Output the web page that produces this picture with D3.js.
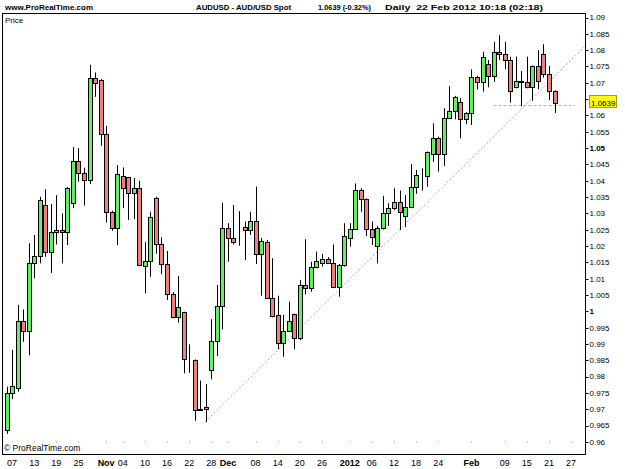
<!DOCTYPE html>
<html>
<head>
<meta charset="utf-8">
<script src="https://cdn.jsdelivr.net/npm/d3@7"></script>
<style>
    html, body { margin: 0; padding: 0; background: #fff; }
    svg { display: block; font-family: "Liberation Sans", Arial, sans-serif; }
</style>
</head>
<body>
<div id="chart"></div>
<script>
// AUDUSD daily, 6 Oct 2011 .. 22 Feb 2012 (one entry per trading day)
const open = [
    0.9637, 0.9749, 0.9764, 0.9971, 0.9940, 1.0147, 1.0170, 1.0326, 1.0181, 1.0242,
    1.0249, 1.0242, 1.0333, 1.0461, 1.0423, 1.0402, 1.0714, 1.0709, 1.0543, 1.0305,
    1.0254, 1.0416, 1.0411, 1.0362, 1.0379, 1.0139, 1.0154, 1.0348, 1.0205, 1.0144,
    1.0053, 0.9984, 0.9997, 0.9851, 0.9851, 0.9699, 0.9706, 0.9821, 0.9909, 1.0017,
    1.0254, 1.0224, 1.0258, 1.0258, 1.0248, 1.0278, 1.0176, 1.0212, 1.0040, 0.9989,
    0.9904, 0.9940, 0.9991, 0.9918, 1.0081, 1.0071, 1.0135, 1.0147, 1.0160, 1.0147,
    1.0076, 1.0142, 1.0224, 1.0252, 1.0372, 1.0344, 1.0251, 1.0201, 1.0254, 1.0300,
    1.0316, 1.0334, 1.0292, 1.0321, 1.0382, 1.0416, 1.0415, 1.0481, 1.0530, 1.0481,
    1.0591, 1.0614, 1.0640, 1.0588, 1.0608, 1.0719, 1.0703, 1.0758, 1.0721, 1.0795,
    1.0788, 1.0770, 1.0686, 1.0702, 1.0702, 1.0686, 1.0751, 1.0787, 1.0726, 1.0675
];
const high = [
    0.9769, 0.9882, 1.0020, 1.0006, 1.0209, 1.0234, 1.0351, 1.0374, 1.0329, 1.0356,
    1.0300, 1.0381, 1.0503, 1.0500, 1.0440, 1.0755, 1.0732, 1.0712, 1.0568, 1.0308,
    1.0448, 1.0441, 1.0412, 1.0408, 1.0400, 1.0213, 1.0305, 1.0351, 1.0227, 1.0185,
    1.0059, 1.0108, 0.9999, 0.9899, 0.9853, 0.9788, 0.9777, 0.9976, 1.0081, 1.0333,
    1.0270, 1.0326, 1.0307, 1.0275, 1.0305, 1.0382, 1.0225, 1.0219, 1.0163, 1.0048,
    0.9990, 1.0030, 0.9993, 1.0096, 1.0221, 1.0152, 1.0183, 1.0176, 1.0166, 1.0205,
    1.0145, 1.0270, 1.0270, 1.0392, 1.0377, 1.0346, 1.0275, 1.0262, 1.0354, 1.0331,
    1.0377, 1.0370, 1.0356, 1.0451, 1.0433, 1.0438, 1.0490, 1.0576, 1.0535, 1.0622,
    1.0690, 1.0660, 1.0653, 1.0610, 1.0741, 1.0721, 1.0795, 1.0770, 1.0826, 1.0846,
    1.0826, 1.0780, 1.0780, 1.0736, 1.0780, 1.0753, 1.0800, 1.0818, 1.0752, 1.0677
];
const low = [
    0.9625, 0.9731, 0.9754, 0.9907, 0.9866, 1.0101, 1.0147, 1.0167, 1.0118, 1.0205,
    1.0147, 1.0203, 1.0316, 1.0397, 1.0324, 1.0390, 1.0657, 1.0507, 1.0272, 1.0247,
    1.0203, 1.0316, 1.0280, 1.0282, 1.0139, 1.0055, 1.0106, 1.0176, 1.0114, 1.0035,
    0.9979, 0.9965, 0.9810, 0.9812, 0.9665, 0.9695, 0.9661, 0.9792, 0.9863, 0.9945,
    1.0152, 1.0205, 1.0201, 1.0157, 1.0234, 1.0145, 1.0048, 1.0038, 0.9982, 0.9884,
    0.9861, 0.9938, 0.9884, 0.9912, 1.0052, 1.0060, 1.0132, 1.0137, 1.0145, 1.0074,
    1.0045, 1.0137, 1.0198, 1.0249, 1.0305, 1.0231, 1.0203, 1.0147, 1.0251, 1.0262,
    1.0310, 1.0249, 1.0258, 1.0316, 1.0360, 1.0370, 1.0382, 1.0458, 1.0428, 1.0445,
    1.0589, 1.0588, 1.0530, 1.0574, 1.0571, 1.0680, 1.0673, 1.0686, 1.0703, 1.0770,
    1.0741, 1.0639, 1.0683, 1.0629, 1.0683, 1.0645, 1.0680, 1.0716, 1.0647, 1.0608
];
const close = [
    0.9749, 0.9772, 0.9971, 0.9940, 1.0147, 1.0170, 1.0341, 1.0183, 1.0242, 1.0249,
    1.0242, 1.0379, 1.0461, 1.0423, 1.0402, 1.0714, 1.0700, 1.0543, 1.0305, 1.0254,
    1.0420, 1.0377, 1.0362, 1.0379, 1.0142, 1.0154, 1.0288, 1.0205, 1.0144, 1.0053,
    0.9984, 1.0014, 0.9853, 0.9852, 0.9698, 0.9701, 0.9700, 0.9909, 1.0017, 1.0254,
    1.0224, 1.0213, 1.0259, 1.0248, 1.0278, 1.0176, 1.0217, 1.0040, 0.9987, 0.9904,
    0.9940, 0.9972, 0.9918, 1.0081, 1.0071, 1.0135, 1.0154, 1.0160, 1.0147, 1.0076,
    1.0142, 1.0231, 1.0252, 1.0372, 1.0344, 1.0251, 1.0227, 1.0254, 1.0300, 1.0316,
    1.0334, 1.0305, 1.0321, 1.0382, 1.0417, 1.0416, 1.0487, 1.0530, 1.0481, 1.0591,
    1.0614, 1.0657, 1.0588, 1.0608, 1.0719, 1.0703, 1.0778, 1.0721, 1.0795, 1.0788,
    1.0770, 1.0675, 1.0706, 1.0706, 1.0686, 1.0751, 1.0706, 1.0726, 1.0675, 1.0639
];

const tickDates = [
    "2011-10-07", "2011-10-13", "2011-10-19", "2011-10-25", "2011-11-01", "2011-11-04",
    "2011-11-10", "2011-11-16", "2011-11-22", "2011-11-28", "2011-12-01", "2011-12-08",
    "2011-12-14", "2011-12-20", "2011-12-26", "2012-01-02", "2012-01-06", "2012-01-12",
    "2012-01-18", "2012-01-24", "2012-02-01", "2012-02-09", "2012-02-15", "2012-02-21",
    "2012-02-27"
];
const tickLabels = [
    "07", "13", "19", "25", "Nov", "04", "10", "16", "22", "28", "Dec", "08",
    "14", "20", "26", "2012", "06", "12", "18", "24", "Feb", "09", "15", "21", "27"
];
const boldTicks = ["Nov", "Dec", "2012", "Feb"];

// drawn objects: support trend line (start/end as [day index, price]) and a horizontal level
const trendLine = [[35.9, 0.9661], [104.5, 1.0812]];
const levelLine = { from: 88, to: 102.7, price: 1.0632 };
const lastPrice = 1.0639;

const width = 625, height = 469;
const frame = { left: 2.5, top: 13.5, right: 585.5, bottom: 454.5 };

// trading days (Mon-Fri) used as the x categories
const days = d3.timeDay.range(new Date(2011, 9, 6), new Date(2012, 2, 3))
    .filter(d => d.getDay() !== 0 && d.getDay() !== 6);
const dayKey = d3.timeFormat("%Y-%m-%d");
const dayIndex = new Map(days.map((d, i) => [dayKey(d), i]));

const x = d3.scaleLinear().domain([0, 99]).range([6.5, 554.5]);
const y = d3.scaleLinear().domain([0.96, 1.09]).range([442, 17.5]);

const svg = d3.select("#chart")
    .append("svg")
    .attr("width", width)
    .attr("height", height)
    .attr("viewBox", [0, 0, width, height]);

svg.append("rect")
    .attr("width", width).attr("height", height)
    .attr("fill", "#fff");

// header
svg.append("text")
    .attr("x", 5).attr("y", 10)
    .attr("font-size", 8).attr("font-weight", "bold")
    .text("www.ProRealTime.com");

const header = [
    { x: 196, text: "AUDUSD - AUD/USD Spot", len: 95 },
    { x: 318, text: "1.0639 (-0.32%)", len: 53 },
    { x: 385, text: "Daily  22 Feb 2012 10:18 (02:18)", len: 158 }
];
svg.selectAll(".hdr")
    .data(header)
    .join("text")
    .attr("class", "hdr")
    .attr("x", d => d.x).attr("y", 10)
    .attr("font-size", 8).attr("font-weight", "bold")
    .attr("textLength", d => d.len)
    .attr("lengthAdjust", "spacingAndGlyphs")
    .style("white-space", "pre")
    .text(d => d.text);

const plot = svg.append("g");

// trend line + level line (dotted grey)
plot.append("line")
    .attr("x1", x(trendLine[0][0])).attr("y1", y(trendLine[0][1]))
    .attr("x2", x(trendLine[1][0])).attr("y2", y(trendLine[1][1]))
    .attr("stroke", "#a8a8a8")
    .attr("stroke-dasharray", "2,2");

plot.append("line")
    .attr("x1", x(levelLine.from)).attr("x2", x(levelLine.to))
    .attr("y1", Math.round(y(levelLine.price)) + 0.5)
    .attr("y2", Math.round(y(levelLine.price)) + 0.5)
    .attr("stroke", "#b0b0b0")
    .attr("stroke-dasharray", "3,2");

// candles
const candles = open.map((o, i) => ({ i, o, h: high[i], l: low[i], c: close[i] }));
const cx = d => Math.round(x(d.i));

const candle = plot.selectAll(".candle")
    .data(candles)
    .join("g")
    .attr("class", "candle");

candle.append("line")
    .attr("x1", d => cx(d) + 0.5).attr("x2", d => cx(d) + 0.5)
    .attr("y1", d => y(d.h)).attr("y2", d => y(d.l))
    .attr("stroke", "#000");

candle.append("rect")
    .attr("x", d => cx(d) - 1.5)
    .attr("width", 4)
    .attr("y", d => Math.round(y(Math.max(d.o, d.c))) + 0.5)
    .attr("height", d => Math.max(0, Math.round(y(Math.min(d.o, d.c))) - Math.round(y(Math.max(d.o, d.c)))))
    .attr("fill", d => d.c > d.o ? "#62f062" : "#f07f7f")
    .attr("stroke", "#000");

// frame
svg.append("rect")
    .attr("x", frame.left).attr("y", frame.top)
    .attr("width", frame.right - frame.left)
    .attr("height", frame.bottom - frame.top)
    .attr("fill", "none")
    .attr("stroke", "#000");

svg.append("text")
    .attr("x", 5).attr("y", 23)
    .attr("font-size", 8)
    .text("Price");

svg.append("text")
    .attr("x", 4).attr("y", 451)
    .attr("font-size", 8.5)
    .text("\u00a9 ProRealTime.com");

// y axis (right); the 1.065 label sits under the last-price tag, so only its tick is drawn
const yTicks = d3.range(0, 27).map(k => +(0.96 + k * 0.005).toFixed(3));
const yAxis = svg.append("g");
yAxis.selectAll("line")
    .data(yTicks)
    .join("line")
    .attr("x1", frame.right).attr("x2", frame.right + 3)
    .attr("y1", d => Math.round(y(d)) + 0.5).attr("y2", d => Math.round(y(d)) + 0.5)
    .attr("stroke", "#000");
yAxis.selectAll("text")
    .data(yTicks.filter(d => Math.abs(d - lastPrice) > 0.003))
    .join("text")
    .attr("x", frame.right + 4)
    .attr("y", d => y(d))
    .attr("dy", "0.35em")
    .attr("font-size", 8)
    .attr("font-weight", d => (d === 1 || d === 1.05) ? "bold" : "normal")
    .text(d => String(d));

// last price tag
const tag = svg.append("g");
tag.append("rect")
    .attr("x", 589.5).attr("y", Math.round(y(lastPrice)) - 7.5)
    .attr("width", 27).attr("height", 12)
    .attr("fill", "#ffff00")
    .attr("stroke", "#a89b00");
tag.append("text")
    .attr("x", 591).attr("y", y(lastPrice))
    .attr("dy", "0.35em")
    .attr("font-size", 8)
    .text(lastPrice.toFixed(4));

// x axis (bottom)
const xTicks = tickDates.map((d, k) => ({ i: dayIndex.get(d), label: tickLabels[k] }));
const xAxis = svg.append("g");
xAxis.selectAll("line")
    .data(xTicks)
    .join("line")
    .attr("x1", d => Math.round(x(d.i)) + 0.5).attr("x2", d => Math.round(x(d.i)) + 0.5)
    .attr("y1", 441).attr("y2", 443)
    .attr("stroke", "#c8c8c8");
xAxis.selectAll("text")
    .data(xTicks)
    .join("text")
    .attr("x", d => x(d.i))
    .attr("y", 466)
    .attr("text-anchor", "middle")
    .attr("font-size", 9)
    .attr("font-weight", d => boldTicks.includes(d.label) ? "bold" : "normal")
    .text(d => d.label);
</script>
</body>
</html>
